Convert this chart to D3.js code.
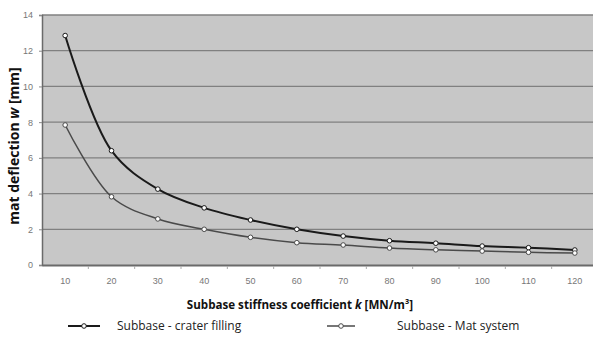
<!DOCTYPE html>
<html>
<head>
<meta charset="utf-8">
<script src="https://cdn.jsdelivr.net/npm/d3@7"></script>
<style>
  html, body { margin: 0; padding: 0; background: #fff; }
  svg { display: block; }
</style>
</head>
<body>
<svg id="chart" width="593" height="342"></svg>
<script>
// Subbase stiffness coefficient k [MN/m³]
const categories = [10, 20, 30, 40, 50, 60, 70, 80, 90, 100, 110, 120];
// Mat deflection w [mm]
const craterFilling = [12.85, 6.4, 4.25, 3.2, 2.52, 2.0, 1.62, 1.36, 1.22, 1.06, 0.97, 0.84];
const matSystem     = [7.84, 3.82, 2.58, 2.0, 1.55, 1.25, 1.12, 0.95, 0.85, 0.78, 0.71, 0.67];
const yTicks = [0, 2, 4, 6, 8, 10, 12, 14];
const seriesNames = ["Subbase - crater filling", "Subbase - Mat system"];

const svg = d3.select("#chart");
const W = 593, H = 342;
const m = { left: 42, top: 15, right: -5, bottom: 77 };
const plotW = W - m.left - m.right;
const plotH = H - m.top - m.bottom;

const x = d3.scaleBand().domain(categories).range([m.left, m.left + plotW]);
const y = d3.scaleLinear().domain([0, 14]).range([m.top + plotH, m.top]);
const cx = d => x(d) + x.bandwidth() / 2;

// plot area
svg.append("rect")
  .attr("x", m.left).attr("y", m.top)
  .attr("width", plotW).attr("height", plotH)
  .attr("fill", "#c7c7c7");

// horizontal gridlines
svg.append("g")
  .selectAll("line")
  .data(yTicks.filter(t => t > 0))
  .join("line")
  .attr("x1", m.left).attr("x2", m.left + plotW)
  .attr("y1", d => y(d)).attr("y2", d => y(d))
  .attr("stroke", "#808080").attr("stroke-width", 1.3);

// y axis
const yAxis = svg.append("g")
  .attr("transform", `translate(${m.left},0)`)
  .call(d3.axisLeft(y).tickValues(yTicks).tickSize(3).tickPadding(6));
yAxis.select(".domain").attr("stroke", "#6a6a6a").attr("stroke-width", 1.5);
yAxis.selectAll(".tick line").attr("stroke", "#8a8a8a");
yAxis.selectAll("text")
  .attr("font-family", "'Liberation Sans Narrow', 'Liberation Sans', sans-serif")
  .attr("font-size", 9).attr("fill", "#777");

// x axis with ticks between categories
const xAxis = svg.append("g")
  .attr("transform", `translate(0,${m.top + plotH})`)
  .call(d3.axisBottom(x).tickSize(0).tickPadding(13));
xAxis.select(".domain").attr("stroke", "#6a6a6a").attr("stroke-width", 1.8);
xAxis.selectAll("text")
  .attr("font-family", "'Liberation Sans Narrow', 'Liberation Sans', sans-serif")
  .attr("font-size", 9).attr("fill", "#777");
xAxis.selectAll(".between")
  .data(categories.slice(1))
  .join("line")
  .attr("class", "between")
  .attr("x1", d => x(d)).attr("x2", d => x(d))
  .attr("y1", 1).attr("y2", 4)
  .attr("stroke", "#aaa");

// series lines
const line = d3.line()
  .x((d, i) => cx(categories[i]))
  .y(d => y(d))
  .curve(d3.curveCatmullRom.alpha(0.5));

const series = [
  { name: seriesNames[0], values: craterFilling, color: "#1a1a1a", width: 2 },
  { name: seriesNames[1], values: matSystem, color: "#4a4a4a", width: 1.5 }
];

series.forEach(s => {
  svg.append("path")
    .datum(s.values)
    .attr("d", line)
    .attr("fill", "none")
    .attr("stroke", s.color)
    .attr("stroke-width", s.width);
  svg.append("g")
    .selectAll("circle")
    .data(s.values)
    .join("circle")
    .attr("cx", (d, i) => cx(categories[i]))
    .attr("cy", d => y(d))
    .attr("r", 2.3)
    .attr("fill", "#fff")
    .attr("stroke", s.color)
    .attr("stroke-width", 1);
});

// axis titles
svg.append("text")
  .attr("transform", `translate(19,${m.top + plotH / 2 + 6}) rotate(-90)`)
  .attr("text-anchor", "middle")
  .attr("font-family", "'Open Sans', sans-serif")
  .attr("font-weight", "bold").attr("font-size", 14).attr("fill", "#111")
  .call(t => {
    t.append("tspan").text("mat deflection ");
    t.append("tspan").attr("font-style", "italic").text("w");
    t.append("tspan").text(" [mm]");
  });

svg.append("text")
  .attr("x", 300).attr("y", 309)
  .attr("text-anchor", "middle")
  .attr("font-family", "'Open Sans', sans-serif")
  .attr("font-weight", "bold").attr("font-size", 11.6).attr("fill", "#111")
  .call(t => {
    t.append("tspan").text("Subbase stiffness coefficient ");
    t.append("tspan").attr("font-style", "italic").text("k");
    t.append("tspan").text(" [MN/m³]");
  });

// legend
const legendItems = [
  { s: series[0], x1: 68, x2: 100, tx: 117 },
  { s: series[1], x1: 327, x2: 355, tx: 397 }
];
const lg = svg.append("g");
legendItems.forEach(it => {
  const ly = 326;
  lg.append("line")
    .attr("x1", it.x1).attr("x2", it.x2).attr("y1", ly).attr("y2", ly)
    .attr("stroke", it.s.color).attr("stroke-width", it.s.width);
  lg.append("circle")
    .attr("cx", (it.x1 + it.x2) / 2).attr("cy", ly).attr("r", 2.3)
    .attr("fill", "#fff").attr("stroke", it.s.color);
  lg.append("text")
    .attr("x", it.tx).attr("y", ly + 4)
    .attr("font-family", "'Open Sans', sans-serif")
    .attr("font-size", 12).attr("fill", "#222")
    .text(it.s.name);
});
</script>
</body>
</html>
